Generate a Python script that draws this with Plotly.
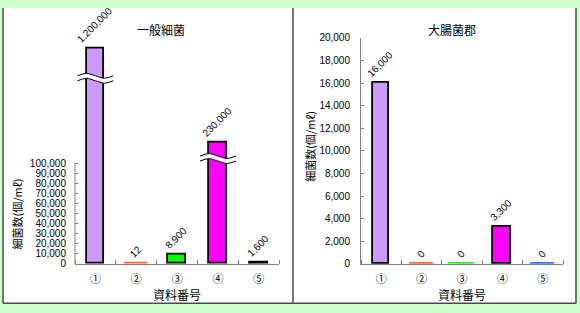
import plotly.graph_objects as go

# ---------------- data ----------------
categories = ["①", "②", "③", "④", "⑤"]
general_values = [1200000, 12, 8900, 230000, 1600]        # 一般細菌 (real values)
general_drawn = [214500, 12, 8900, 120500, 1600]          # heights on the broken axis
general_breaks = [185000, None, None, 105000, None]       # where the axis break is drawn
coliform_values = [16000, 0, 0, 3300, 0]                  # 大腸菌郡
general_ticks = list(range(0, 100001, 10000))
coliform_ticks = list(range(0, 20001, 2000))

# ---------------- styles ----------------
W, H = 580, 313
def px(x):
    return x / W
def py(y):
    return 1 - y / H

fill_left = ["#cc99ff", "#ff6a2a", "#00ff00", "#ff00ff", "#2f6a8f"]
line_left = ["#000000", "#ff6a2a", "#000000", "#000000", "#000000"]
width_left = [0.43, 0.57, 0.43, 0.43, 0.43]
fill_right = ["#cc99ff", "#ff6633", "#33ee33", "#ff00ff", "#3377ff"]
line_right = ["#000000", "#ff6633", "#33ee33", "#000000", "#3377ff"]
width_right = [0.40, 0.59, 0.64, 0.45, 0.59]

CJK = "Noto Sans CJK JP"
NUM = "Liberation Sans"
TXT = "#000"

xs = list(range(1, len(categories) + 1))

# left plot geometry (pixels)
L_x0, L_x1 = 75, 279.3
L_ybot, L_ytop = 267.3, 40
L_top_value = general_ticks[-1] / (L_ybot - 163.3) * (L_ybot - L_ytop)
y_per_px = L_top_value / (L_ybot - L_ytop)

R_x0, R_x1 = 361, 563
R_ybot, R_ytop = 267.3, 33

fig = go.Figure()

fig.add_trace(go.Bar(
    x=xs, y=general_drawn, width=width_left,
    marker=dict(color=fill_left, line=dict(color=line_left, width=1.8)),
    text=[f"{v:,}" for v in general_values], textposition="outside",
    textangle=-45, constraintext="none", cliponaxis=False,
    textfont=dict(family=NUM, size=10, color=TXT),
    xaxis="x", yaxis="y", showlegend=False, hoverinfo="skip",
))

fig.add_trace(go.Bar(
    x=xs, y=coliform_values, width=width_right,
    marker=dict(color=fill_right, line=dict(color=line_right, width=1.8)),
    text=[f"{v:,}" for v in coliform_values], textposition="outside",
    textangle=-45, constraintext="none", cliponaxis=False,
    textfont=dict(family=NUM, size=10, color=TXT),
    xaxis="x2", yaxis="y2", showlegend=False, hoverinfo="skip",
))

# axis-break waves
dx = [-0.44, -0.22, 0.0, 0.22, 0.44]
amp = [0.0, 2.5, 0.0, -2.5, 0.0]
gap = 2.6
for i, b in enumerate(general_breaks):
    if b is None:
        continue
    cx = xs[i]
    wx = [cx + d for d in dx]
    top = [b + (gap + a) * y_per_px for a in amp]
    bot = [b + (-gap + a) * y_per_px for a in amp]
    fig.add_trace(go.Scatter(
        x=wx + wx[::-1], y=top + bot[::-1], mode="lines", fill="toself",
        fillcolor="white", line=dict(width=0, shape="spline"),
        xaxis="x", yaxis="y", showlegend=False, hoverinfo="skip", cliponaxis=False,
    ))
    fig.add_trace(go.Scatter(
        x=wx + [None] + wx, y=top + [None] + bot, mode="lines",
        line=dict(color="#000", width=1, shape="spline"),
        xaxis="x", yaxis="y", showlegend=False, hoverinfo="skip", cliponaxis=False,
    ))

axis_common = dict(showgrid=False, zeroline=False, fixedrange=True)
xaxis_common = dict(
    range=[0.5, 5.5], tickmode="array", tickvals=xs, ticktext=categories,
    ticks="", showline=True, linecolor="#808080", linewidth=1,
    tickfont=dict(family=CJK, size=11, color=TXT), ticklabelstandoff=5,
    minor=dict(tickmode="linear", tick0=0.5, dtick=1, ticks="inside",
               ticklen=4, tickcolor="#808080", tickwidth=1),
    **axis_common,
)

fig.update_layout(
    width=W, height=H, margin=dict(l=0, r=0, t=0, b=0),
    paper_bgcolor="#ccffcc", plot_bgcolor="rgba(0,0,0,0)",
    bargap=0,
    xaxis=dict(domain=[px(L_x0), px(L_x1)], anchor="y", **xaxis_common),
    yaxis=dict(domain=[py(L_ybot), py(L_ytop)], range=[0, L_top_value], anchor="x",
               tickmode="array", tickvals=general_ticks,
               ticktext=[f"{v:,}" for v in general_ticks],
               ticks="inside", ticklen=3, tickcolor="#808080", showline=False,
               tickfont=dict(family=NUM, size=10, color=TXT), ticklabelstandoff=8,
               **axis_common),
    xaxis2=dict(domain=[px(R_x0), px(R_x1)], anchor="y2", **xaxis_common),
    yaxis2=dict(domain=[py(R_ybot), py(R_ytop)], range=[0, coliform_ticks[-1]], anchor="x2",
                tickmode="array", tickvals=coliform_ticks,
                ticktext=[f"{v:,}" for v in coliform_ticks],
                ticks="inside", ticklen=3, tickcolor="#808080",
                showline=True, linecolor="#808080", linewidth=1,
                tickfont=dict(family=NUM, size=10, color=TXT), ticklabelstandoff=8,
                **axis_common),
)

border = "#4a4a4a"
shapes = [
    dict(type="rect", xref="paper", yref="paper", x0=px(3), x1=px(576), y0=py(308), y1=py(2),
         fillcolor="white", line=dict(width=0), layer="below"),
    dict(type="line", xref="paper", yref="paper", x0=px(3), x1=px(3), y0=py(308), y1=py(2),
         line=dict(color=border, width=1.5)),
    dict(type="line", xref="paper", yref="paper", x0=px(293), x1=px(293), y0=py(308), y1=py(2),
         line=dict(color=border, width=1.5)),
    dict(type="line", xref="paper", yref="paper", x0=px(576), x1=px(576), y0=py(308), y1=py(2),
         line=dict(color=border, width=1.5)),
    dict(type="line", xref="paper", yref="paper", x0=px(3), x1=px(576), y0=py(308), y1=py(308),
         line=dict(color=border, width=1.5)),
    # left y axis line only up to the top tick (broken axis)
    dict(type="line", xref="x domain", yref="y", x0=0, x1=0, y0=0, y1=general_ticks[-1],
         line=dict(color="#808080", width=1)),
]
fig.update_layout(shapes=shapes)

ann = [
    dict(text="一般細菌", x=px(161.5), y=py(24), font=dict(family=CJK, size=12, color=TXT)),
    dict(text="大腸菌郡", x=px(452), y=py(24), font=dict(family=CJK, size=12, color=TXT)),
    dict(text="資料番号", x=px(177), y=py(298.5), font=dict(family=CJK, size=12, color=TXT)),
    dict(text="資料番号", x=px(462), y=py(298.5), font=dict(family=CJK, size=12, color=TXT)),
    dict(text="細菌数(個/mℓ)", x=px(17), y=py(216), textangle=-90,
         font=dict(family=CJK, size=11, color=TXT)),
    dict(text="細菌数(個/mℓ)", x=px(310), y=py(146), textangle=-90,
         font=dict(family=CJK, size=11, color=TXT)),
]
for a in ann:
    a.update(xref="paper", yref="paper", showarrow=False, xanchor="center", yanchor="middle")
fig.update_layout(annotations=ann)

fig.write_html("out.html")
